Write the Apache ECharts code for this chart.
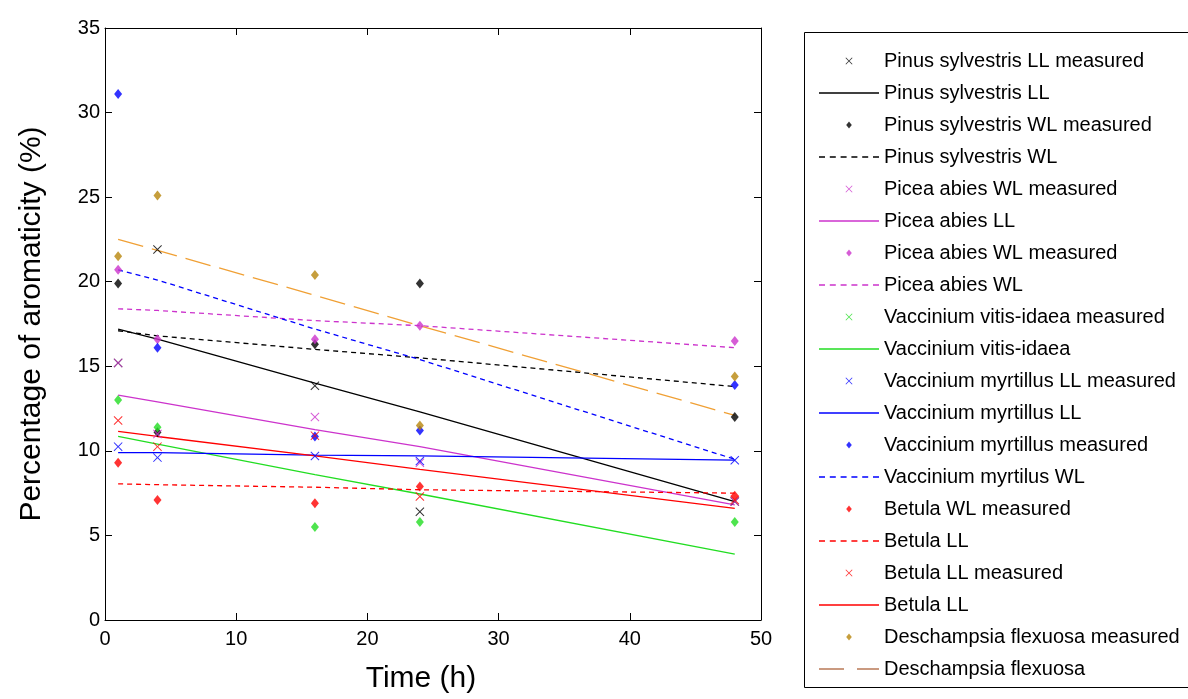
<!DOCTYPE html>
<html><head><meta charset="utf-8">
<script src="https://cdn.jsdelivr.net/npm/echarts@6/dist/echarts.min.js"></script>
<style>html,body{margin:0;padding:0;background:#fff}#c{width:1188px;height:699px}</style>
</head><body><div id="c"></div>
<script>
// ---- data ----
const times = [1, 4, 16, 24, 48];
const xTicks = [0, 10, 20, 30, 40, 50];
const yTicks = [0, 5, 10, 15, 20, 25, 30, 35];
const pinusLLMeas   = [15.2, 21.9, 13.85, 6.4, 7.0];
const pinusLLFit    = [17.2, 16.6, 14.0, 12.3, 7.0];
const pinusWLMeas   = [19.9, 11.1, 16.3, 19.9, 12.0];
const pinusWLFit    = [17.1, 16.8, 16.0, 15.5, 13.8];
const piceaXMeas    = [15.2, 11.0, 12.0, 9.3, 7.0];
const piceaLLFit    = [13.3, 12.9, 11.25, 10.25, 6.8];
const piceaWLMeas   = [20.7, 16.6, 16.6, 17.4, 16.5];
const piceaWLFit    = [18.4, 18.3, 17.7, 17.4, 16.1];
const vitisMeas     = [13.0, 11.4, 5.5, 5.8, 5.8];
const vitisFit      = [10.85, 10.4, 8.6, 7.45, 3.9];
const myrtLLMeas    = [10.25, 9.6, 9.7, 9.4, 9.45];
const myrtLLFit     = [9.9, 9.9, 9.75, 9.7, 9.45];
const myrtMeas      = [31.1, 16.1, 10.85, 11.2, 13.9];
const myrtWLFit     = [20.7, 20.1, 17.2, 15.4, 9.5];
const betulaWLMeas  = [9.3, 7.1, 6.9, 7.9, 7.35];
const betulaLLDash  = [8.05, 8.0, 7.85, 7.7, 7.5];
const betulaLLMeas  = [11.8, 10.25, 10.9, 7.3, 7.1];
const betulaLLFit   = [11.15, 10.85, 9.7, 8.9, 6.6];
const deschMeas     = [21.5, 25.1, 20.4, 11.5, 14.4];
const deschFit      = [22.5, 21.85, 19.2, 17.4, 12.1];

// ---- styling ----
const FONT = 'Liberation Sans, Arial, sans-serif';
const C = {black:'#000000', mag:'#CC33CC', green:'#22DD22', blue:'#0000FF', red:'#FF0000', brown:'#B8860B', orange:'#F0A035', brownLeg:'#B97A57'};
const X_PATH = 'path://M0,0.8L0.8,0L5,4.2L9.2,0L10,0.8L5.8,5L10,9.2L9.2,10L5,5.8L0.8,10L0,9.2L4.2,5Z';
const D_PATH = 'path://M5,0L9,5L5,10L1,5Z';
const SOLID_ICON = 'path://M0,0h60v1.3h-60z';
function dashIcon(n, dash, period){ let p='path://'; for(let i=0;i<n;i++){ p += 'M'+(i*period)+',0h'+dash+'v1.3h-'+dash+'z'; } return p; }
const SHORT_DASH_ICON = dashIcon(6, 6, 10.8);
const LONG_DASH_ICON = 'path://M0,0h25v1.3h-25zM38,0h22v1.3h-22z';

// kind: 'x' | 'd' (diamond) | 'solid' | 'dash' | 'long'
const specs = [
  ['Pinus sylvestris LL measured', pinusLLMeas, 'x', C.black],
  ['Pinus sylvestris LL', pinusLLFit, 'solid', C.black],
  ['Pinus sylvestris WL measured', pinusWLMeas, 'd', C.black],
  ['Pinus sylvestris WL', pinusWLFit, 'dash', C.black],
  ['Picea abies WL measured#x', piceaXMeas, 'x', C.mag],
  ['Picea abies LL', piceaLLFit, 'solid', C.mag],
  ['Picea abies WL measured#d', piceaWLMeas, 'd', C.mag],
  ['Picea abies WL', piceaWLFit, 'dash', C.mag],
  ['Vaccinium vitis-idaea measured', vitisMeas, 'd', C.green, 'x'],
  ['Vaccinium vitis-idaea', vitisFit, 'solid', C.green],
  ['Vaccinium myrtillus LL measured', myrtLLMeas, 'x', C.blue],
  ['Vaccinium myrtillus LL', myrtLLFit, 'solid', C.blue],
  ['Vaccinium myrtillus measured', myrtMeas, 'd', C.blue],
  ['Vaccinium myrtilus WL', myrtWLFit, 'dash', C.blue],
  ['Betula WL measured', betulaWLMeas, 'd', C.red],
  ['Betula LL#dash', betulaLLDash, 'dash', C.red],
  ['Betula LL measured', betulaLLMeas, 'x', C.red],
  ['Betula LL#solid', betulaLLFit, 'solid', C.red],
  ['Deschampsia flexuosa measured', deschMeas, 'd', C.brown],
  ['Deschampsia flexuosa', deschFit, 'long', C.orange, null, C.brownLeg]
];

const series = specs.map(([name, vals, kind, color]) => {
  const data = times.map((t, i) => [t, vals[i]]);
  if (kind === 'x' || kind === 'd') {
    return {name, type:'scatter', data, xAxisIndex:0, yAxisIndex:0,
      symbol: kind === 'x' ? X_PATH : 'diamond',
      symbolSize: kind === 'x' ? 9 : [8, 10],
      itemStyle:{color}, z: 3, silent:true};
  }
  const dash = kind === 'solid' ? 'solid' : (kind === 'dash' ? [5, 4] : [26, 9]);
  return {name, type:'line', data, xAxisIndex:0, yAxisIndex:0, symbol:'none', showSymbol:false,
    lineStyle:{color, width:1.3, type:dash}, itemStyle:{color}, z:2, silent:true, animation:false};
});

const legendData = specs.map(([name, vals, kind, color, legKind, legColor]) => {
  const k = legKind || kind;
  let icon;
  if (k === 'x') icon = X_PATH;
  else if (k === 'd') icon = D_PATH;
  else if (k === 'solid') icon = SOLID_ICON;
  else if (k === 'dash') icon = SHORT_DASH_ICON;
  else icon = LONG_DASH_ICON;
  return {name, icon, itemStyle:{color: legColor || color, borderWidth:0}};
});

const axisCommon = {
  type:'value', axisLine:{show:true, onZero:false, lineStyle:{color:'#000', width:1}},
  axisTick:{show:true, inside:true, length:7, lineStyle:{color:'#000', width:1}},
  splitLine:{show:false}
};

const chart = echarts.init(document.getElementById('c'), null, {renderer:'canvas'});
chart.setOption({
  animation:false,
  backgroundColor:'#ffffff',
  grid:{left:105, right:427, top:28, bottom:77},
  xAxis:[
    Object.assign({}, axisCommon, {position:'bottom', min:xTicks[0], max:xTicks[xTicks.length-1], interval:10,
      axisLabel:{show:true, color:'#000', fontSize:20, fontFamily:FONT, margin:9},
      name:'Time (h)', nameLocation:'middle', nameGap:44,
      nameTextStyle:{fontSize:30, fontFamily:FONT, color:'#000', padding:[0,24,0,0]}}),
    Object.assign({}, axisCommon, {position:'top', min:xTicks[0], max:xTicks[xTicks.length-1], interval:10, axisLabel:{show:false}})
  ],
  yAxis:[
    Object.assign({}, axisCommon, {position:'left', min:yTicks[0], max:yTicks[yTicks.length-1], interval:5,
      axisLabel:{show:true, color:'#000', fontSize:20, fontFamily:FONT, margin:5},
      name:'Percentage of aromaticity (%)', nameLocation:'middle', nameGap:58,
      nameTextStyle:{fontSize:30, fontFamily:FONT, color:'#000'}}),
    Object.assign({}, axisCommon, {position:'right', min:yTicks[0], max:yTicks[yTicks.length-1], interval:5, axisLabel:{show:false}})
  ],
  legend:{
    orient:'vertical', left:814, top:46, itemWidth:60, itemHeight:7, itemGap:12,
    selectedMode:false,
    textStyle:{fontSize:20, fontFamily:FONT, color:'#000', lineHeight:20},
    formatter: n => n.split('#')[0],
    data: legendData
  },
  graphic:[{type:'rect', left:802, top:30, shape:{width:384, height:655}, style:{fill:'none', stroke:'#000', lineWidth:1}, silent:true}],
  series
});
</script></body></html>
